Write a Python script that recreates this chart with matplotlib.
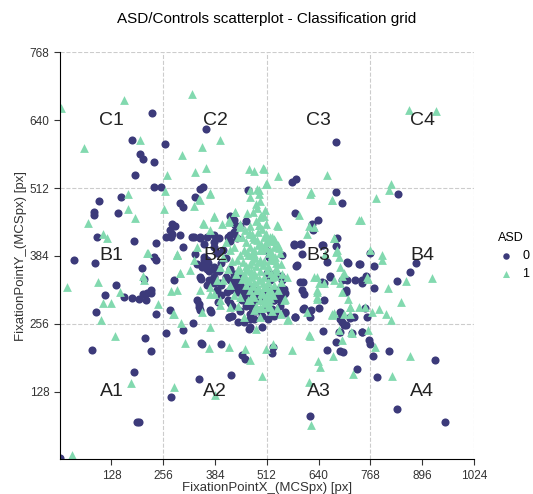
import matplotlib
matplotlib.use("Agg")
import matplotlib.pyplot as plt

plt.rcParams["font.family"] = ["Liberation Sans", "DejaVu Sans"]

# ASD = 0 (controls), fixation points in MCS px
x0 = [228, 361, 179, 261, 199, 206, 234, 187, 232, 250, 354, 348, 151, 98, 84, 84, 143,
      298, 305, 335, 465, 92, 183, 237, 36, 88, 232, 239, 204, 278, 286, 273, 278, 264,
      275, 298, 305, 327, 348, 364, 358, 381, 335, 356, 364, 422, 430, 434, 422, 507,
      683, 575, 585, 684, 698, 836, 583, 638, 624, 627, 686, 579, 597, 599, 651, 682,
      767, 713, 742, 778, 880, 550, 585, 866, 833, 546, 550, 529, 595, 601, 669, 649,
      653, 697, 758, 748, 778, 709, 709, 529, 554, 558, 599, 603, 500, 513, 529, 542,
      653, 525, 533, 556, 601, 622, 642, 583, 754, 694, 697, 709, 719, 727, 650, 692,
      748, 683, 661, 694, 700, 764, 768, 775, 814, 929, 736, 785, 526, 528, 620, 835,
      952, 140, 113, 160, 179, 195, 207, 216, 226, 226, 90, 209, 239, 213, 212, 226,
      81, 183, 191, 196, 264, 272, 282, 305, 330, 344, 346, 374, 349, 353, 400, 419,
      391, 422, 451, 457, 468, 471, 424, 345, 275, 340, 348, 368, 356, 381, 397, 414,
      430, 447, 463, 480, 488, 476, 366, 385, 331, 348, 381, 393, 381, 422, 438, 356,
      352, 364, 381, 389, 381, 422, 438, 447, 430, 451, 459, 471, 480, 488, 480, 513,
      521, 533, 546, 554, 546, 509, 517, 344, 340, 372, 418, 471, 496, 558, 583, 603,
      620, 579, 595, 587, 649, 661, 669, 711, 740, 731, 711, 748, 694, 719, 702, 690,
      748, 723, 760, 0,
      420, 430, 440, 450, 455, 465, 475, 485, 495, 505, 440, 430, 420, 410, 400, 415,
      425, 445, 460, 470, 480, 500, 510, 520, 530, 540, 410, 400, 390, 405, 415, 430,
      445, 460, 400, 390, 380, 370, 395, 350, 365, 455, 440, 425, 500, 515, 530, 545]
y0 = [653, 624, 603, 596, 577, 567, 562, 536, 514, 514, 514, 511, 495, 487, 467, 462, 464,
      484, 476, 495, 508, 420, 413, 409, 377, 371, 382, 377, 361, 445, 441, 432, 426, 420,
      420, 423, 400, 420, 420, 420, 407, 401, 388, 382, 376, 460, 451, 442, 413, 395,
      599, 523, 530, 504, 484, 500, 465, 452, 444, 433, 417, 404, 406, 387, 405, 402,
      389, 371, 369, 365, 371, 385, 365, 354, 337, 346, 338, 349, 334, 334, 346, 335,
      332, 338, 347, 332, 324, 320, 315, 320, 322, 314, 319, 313, 313, 319, 300, 303,
      300, 283, 278, 277, 283, 281, 286, 269, 286, 264, 259, 254, 267, 269, 242, 241,
      241, 221, 206, 205, 202, 225, 217, 196, 204, 188, 171, 155, 201, 212, 82, 95,
      71, 330, 310, 307, 305, 302, 313, 314, 320, 314, 279, 341, 274, 300, 230, 204,
      206, 165, 71, 71, 239, 281, 339, 245, 258, 293, 281, 278, 220, 217, 217, 268,
      297, 295, 197, 190, 247, 264, 160, 151, 118, 369, 344, 339, 369, 332, 332, 316,
      335, 344, 325, 319, 306, 285, 371, 357, 420, 417, 423, 417, 410, 423, 417, 376,
      363, 360, 363, 357, 344, 338, 338, 329, 325, 319, 310, 325, 313, 303, 288, 351,
      338, 319, 325, 313, 300, 395, 382, 288, 300, 282, 269, 250, 282, 278, 269, 285,
      269, 407, 407, 366, 404, 372, 344, 372, 369, 338, 338, 338, 278, 269, 253, 241,
      241, 238, 269, 2,
      320, 330, 315, 300, 320, 310, 295, 280, 300, 310, 340, 350, 360, 345, 330, 300,
      290, 280, 290, 275, 265, 270, 290, 280, 300, 310, 380, 370, 390, 395, 420, 430,
      440, 450, 310, 320, 340, 355, 355, 340, 330, 260, 260, 270, 250, 265, 270, 290]

# ASD = 1
x1 = [3, 158, 327, 59, 198, 302, 352, 397, 362, 335, 265, 261, 169, 170, 187, 69, 108, 117,
      259, 371, 346, 354, 381, 218, 290, 467, 480, 503, 488, 509, 471, 492, 433, 418,
      447, 492, 504, 463, 863, 931, 505, 539, 510, 661, 622, 674, 820, 815, 783, 591,
      741, 616, 540, 525, 533, 509, 542, 525, 533, 678, 686, 690, 655, 797, 797, 921,
      857, 812, 843, 773, 789, 808, 818, 762, 721, 698, 676, 643, 638, 618, 616, 622,
      726, 779, 822, 867, 575, 509, 528, 500, 678, 674, 717, 719, 712, 698, 694, 698,
      628, 641, 637, 635, 612, 565, 537, 558, 500, 508, 690, 762, 19, 95, 106, 127,
      103, 136, 150, 207, 209, 243, 176, 282, 30, 275, 279, 298, 301, 311, 352, 371,
      368, 418, 459, 470, 385, 397, 372, 486, 455, 480, 216, 290,
      372, 344, 331, 381, 356, 372, 401, 418, 434, 447, 459, 476, 496, 492, 509, 521,
      537, 471, 492, 513, 529, 533, 546, 521, 496, 480, 471, 463, 480, 496, 505, 488,
      480, 496, 513, 521, 447, 439, 422, 405, 397, 405, 389, 381, 372, 340, 331, 323,
      290, 298, 290, 282, 348, 397, 422, 447, 471, 496, 521, 562, 554, 562, 546, 612,
      620, 628, 674, 678, 682, 694, 702, 678, 636, 636, 636, 653, 616, 674, 702, 723,
      719, 740, 756, 744, 768, 760,
      450, 460, 470, 480, 490, 500, 510, 520, 455, 465, 475, 485, 495, 505, 515, 525,
      535, 460, 470, 480, 490, 500, 510, 520, 530, 540, 450, 460, 470, 485, 495, 505,
      515, 525, 445, 455, 465, 475, 500, 510, 490, 520, 530, 540, 485, 470, 440, 430,
      425, 435, 420, 430, 440, 410, 415, 505, 515, 525, 535, 545, 550, 495, 505, 480, 470,
      462, 472, 482, 492, 502, 512, 522, 532, 467, 477, 487, 497, 507, 517, 527, 458,
      468, 478, 488, 498, 508, 518, 528, 463, 473, 483, 493, 503, 513, 523, 478, 488,
      498, 508, 485, 495, 452, 442, 536, 546]
y1 = [663, 679, 690, 588, 603, 574, 589, 602, 550, 543, 536, 506, 500, 473, 455, 446, 426,
      417, 472, 503, 490, 446, 460, 389, 388, 547, 544, 549, 511, 520, 495, 501, 467,
      448, 438, 442, 460, 464, 660, 658, 547, 535, 520, 537, 504, 489, 520, 509, 494,
      462, 452, 440, 440, 420, 413, 401, 398, 385, 382, 417, 395, 382, 388, 385, 376,
      343, 337, 324, 297, 278, 283, 275, 263, 245, 241, 225, 195, 175, 185, 232, 146,
      65, 162, 212, 157, 195, 206, 209, 217, 157, 276, 272, 275, 288, 302, 347, 333,
      316, 345, 332, 316, 303, 278, 264, 285, 302, 285, 300, 244, 341, 325, 335, 296,
      296, 263, 233, 316, 346, 338, 294, 144, 137, 8, 318, 274, 352, 258, 219, 278,
      249, 211, 212, 208, 188, 121, 291, 313, 246, 269, 281, 389, 386,
      501, 492, 479, 457, 445, 432, 445, 451, 467, 445, 432, 426, 457, 442, 426, 413,
      442, 508, 508, 520, 401, 376, 369, 376, 376, 388, 369, 357, 351, 338, 326, 319,
      307, 300, 313, 319, 357, 376, 395, 382, 363, 338, 338, 313, 326, 401, 376, 357,
      385, 351, 319, 275, 319, 300, 288, 307, 300, 269, 288, 344, 300, 263, 275, 426,
      501, 439, 489, 417, 391, 363, 351, 338, 344, 319, 307, 332, 234, 275, 275, 238,
      288, 288, 288, 451, 395, 344,
      420, 410, 400, 415, 405, 395, 410, 395, 395, 385, 375, 365, 355, 345, 335, 345,
      355, 365, 345, 335, 325, 315, 325, 305, 330, 320, 340, 330, 320, 290, 285, 295,
      290, 280, 385, 350, 300, 310, 435, 445, 430, 420, 415, 405, 450, 440, 420, 400,
      375, 350, 330, 310, 290, 410, 360, 375, 365, 385, 370, 390, 350, 395, 420, 395, 425,
      392, 386, 380, 372, 366, 358, 352, 346, 428, 420, 414, 406, 398, 390, 382, 342,
      336, 328, 320, 312, 304, 298, 310, 362, 356, 348, 340, 332, 326, 318, 466, 474,
      460, 470, 482, 488, 372, 360, 362, 334]

grid_labels = ["A1", "A2", "A3", "A4", "B1", "B2", "B3", "B4", "C1", "C2", "C3", "C4"]

c0 = "#3c3a7a"
c1 = "#82d9af"

fig = plt.figure(figsize=(5.33, 4.94), dpi=100)
ax = fig.add_axes([0.112, 0.07, 0.777, 0.824])

# classification grid
for gx in [256, 512, 768, 1024]:
    ax.axvline(gx, color="#cccccc", linestyle="--", linewidth=0.8, zorder=0)
for gy in [256, 512, 768]:
    ax.axhline(gy, color="#cccccc", linestyle="--", linewidth=0.8, zorder=0)

ax.scatter(x0, y0, s=34, marker="o", color=c0, linewidths=0, label="0", zorder=2)
ax.scatter(x1, y1, s=40, marker="^", color=c1, linewidths=0, label="1", zorder=2)

for i, lab in enumerate(grid_labels):
    row, col = divmod(i, 4)
    ax.text(128 + 256 * col, 128 + 256 * row, lab, fontsize=14, color="#222222",
            ha="center", va="center", zorder=3)

ax.set_xlim(0, 1024)
ax.set_ylim(0, 768)
ax.set_xticks(range(128, 1025, 128))
ax.set_yticks(range(128, 769, 128))
ax.tick_params(labelsize=8.5, length=4, color="#333333", labelcolor="#333333")
ax.spines["top"].set_visible(False)
ax.spines["right"].set_visible(False)
ax.set_xlabel("FixationPointX_(MCSpx) [px]", fontsize=9.5, color="#333333", labelpad=0)
ax.set_ylabel("FixationPointY_(MCSpx) [px]", fontsize=9.5, color="#333333", labelpad=2)
fig.suptitle("ASD/Controls scatterplot - Classification grid", fontsize=11, y=0.975)

leg = ax.legend(title="ASD", loc="center left", bbox_to_anchor=(1.02, 0.5),
                frameon=False, fontsize=9, title_fontsize=9, handletextpad=0.3,
                markerscale=0.8, borderaxespad=0.5)

fig.savefig("out.png", dpi=100)
